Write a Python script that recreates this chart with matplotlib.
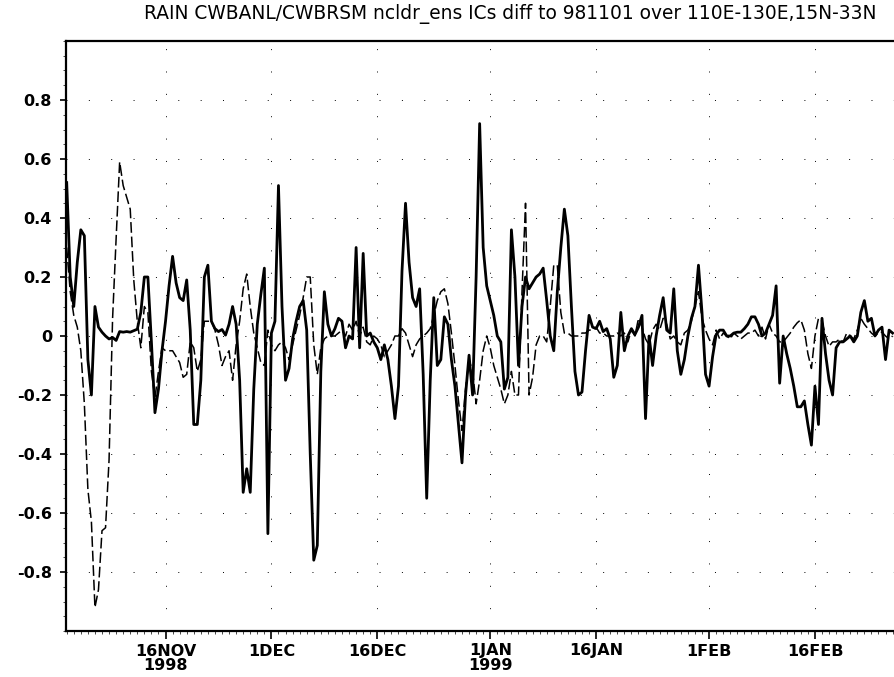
import numpy as np
import pandas as pd
import matplotlib
matplotlib.use("Agg")
import matplotlib.pyplot as plt
import matplotlib.dates as mdates
from datetime import datetime

plt.rcParams['font.family'] = ['Liberation Sans Narrow', 'DejaVu Sans']
plt.rcParams['axes.unicode_minus'] = False

# 12-hourly series starting 1998-11-02 00Z
start = '1998-11-02 00:00'

# solid line
rain_solid = [
    0.52, 0.2, 0.1, 0.25, 0.36, 0.34, -0.08, -0.2, 0.1, 0.03,
    0.013, 0.0, -0.01, -0.005, -0.015, 0.015, 0.013, 0.015, 0.013, 0.018,
    0.023, 0.08, 0.2, 0.2, -0.02, -0.26, -0.18, -0.05, 0.05, 0.17,
    0.27, 0.18, 0.13, 0.12, 0.19, 0.02, -0.3, -0.3, -0.15,
    # 20.5 - 40.0
    0.2, 0.24, 0.05, 0.025, 0.015, 0.022, 0.003, 0.04, 0.1, 0.04,
    -0.15, -0.53, -0.45, -0.53, -0.18, 0.04, 0.14, 0.23, -0.67, 0.01,
    0.05, 0.51, 0.1, -0.15, -0.11, -0.01, 0.05, 0.1, 0.12, 0.02,
    -0.4, -0.76, -0.71, -0.12, 0.15, 0.04, 0.0, 0.025, 0.06, 0.05,
    # 40.5 - 59.5
    -0.04, 0.0, -0.01, 0.3, -0.04, 0.28, 0.0, 0.01, -0.02, -0.04,
    -0.08, -0.03, -0.08, -0.17, -0.28, -0.17, 0.22, 0.45, 0.25, 0.13,
    0.1, 0.16, -0.13, -0.55, -0.15, 0.13, -0.1, -0.08, 0.065, 0.04,
    -0.08, -0.17, -0.3, -0.43, -0.2, -0.065, -0.2, 0.2, 0.72,
    # 60.0 - 79.5
    0.3, 0.17, 0.12, 0.07, 0.0, -0.02, -0.18, -0.14, 0.36, 0.2,
    -0.1, 0.1, 0.2, 0.16, 0.18, 0.2, 0.21, 0.23, 0.12, 0.0,
    -0.05, 0.15, 0.3, 0.43, 0.34, 0.1, -0.12, -0.2, -0.19, -0.05,
    0.07, 0.03, 0.025, 0.05, 0.015, 0.025, -0.01, -0.14, -0.1, 0.08,
    # 80.0 - 99.0
    -0.05, 0.0, 0.025, 0.005, 0.03, 0.07, -0.28, 0.0, -0.1, 0.0,
    0.07, 0.13, 0.02, 0.01, 0.16, -0.05, -0.13, -0.08, 0.0, 0.06,
    0.1, 0.24, 0.08, -0.13, -0.17, -0.07, 0.005, 0.02, 0.02, 0.0,
    0.0, 0.01, 0.013, 0.013, 0.025, 0.04, 0.065, 0.065, 0.04,
    # 99.5 - 118.0
    0.0, 0.01, 0.04, 0.07, 0.17, -0.16, 0.0, -0.06, -0.11, -0.17,
    -0.24, -0.24, -0.22, -0.3, -0.37, -0.17, -0.3, 0.06, -0.06, -0.15,
    -0.2, -0.04, -0.02, -0.02, -0.01, 0.0, -0.02, 0.0, 0.08, 0.12,
    0.05, 0.06, 0.0, 0.02, 0.03, -0.08, 0.02, 0.01,
]

# dashed line
rain_dashed = [
    0.3, 0.15, 0.07, 0.03, -0.05, -0.23, -0.52, -0.63, -0.92, -0.86,
    -0.66, -0.65, -0.42, 0.06, 0.33, 0.59, 0.51, 0.47, 0.43, 0.19,
    0.05, -0.04, 0.1, 0.08, -0.12, -0.21, -0.12, -0.04, -0.05, -0.05,
    -0.05, -0.07, -0.09, -0.14, -0.13, -0.02, -0.04, -0.12, -0.08,
    # 20.5 - 40.0
    0.05, 0.05, 0.05, 0.02, -0.03, -0.1, -0.07, -0.05, -0.15, -0.03,
    0.05, 0.16, 0.21, 0.1, 0.01, -0.04, -0.09, -0.1, 0.02, -0.03,
    -0.05, -0.03, -0.02, -0.04, -0.08, -0.03, 0.02, 0.07, 0.13, 0.2,
    0.2, -0.03, -0.13, -0.04, -0.01, 0.0, 0.0, 0.0, 0.01, 0.02,
    # 40.5 - 59.5
    0.0, 0.04, 0.02, 0.05, 0.0, 0.03, -0.02, -0.03, 0.0, -0.01,
    -0.03, -0.07, -0.05, -0.03, 0.0, 0.0, 0.025, 0.01, -0.03, -0.07,
    -0.03, -0.01, 0.0, 0.01, 0.025, 0.07, 0.12, 0.15, 0.16, 0.11,
    0.01, -0.1, -0.22, -0.32, -0.18, -0.08, -0.12, -0.23, -0.15,
    # 60.0 - 79.5
    -0.05, 0.0, -0.04, -0.1, -0.14, -0.18, -0.23, -0.2, -0.12, -0.2,
    -0.2, 0.15, 0.45, -0.2, -0.14, -0.03, 0.0, 0.0, -0.02, 0.1,
    0.24, 0.24, 0.08, 0.01, 0.01, 0.0, 0.0, 0.0, 0.01, 0.01,
    0.02, 0.02, 0.03, 0.01, 0.01, 0.0, 0.0, 0.0, 0.01, 0.0,
    # 80.0 - 99.0
    0.01, -0.02, 0.02, 0.0, 0.06, 0.03, -0.01, -0.03, 0.02, 0.04,
    0.02, 0.06, 0.04, -0.01, 0.0, -0.02, -0.03, 0.01, 0.02, 0.05,
    0.1, 0.15, 0.06, 0.02, -0.01, -0.03, 0.02, -0.01, 0.01, 0.0,
    -0.01, 0.01, 0.0, -0.01, 0.0, 0.01, 0.01, 0.02, 0.0,
    # 99.5 - 118.0
    0.03, -0.01, 0.04, 0.01, 0.0, -0.02, -0.02, -0.005, 0.01, 0.03,
    0.045, 0.055, 0.02, -0.06, -0.11, 0.0, 0.06, 0.05, 0.0, -0.035,
    -0.02, -0.02, -0.01, -0.02, 0.01, 0.0, -0.01, 0.02, 0.06, 0.04,
    0.025, 0.01, 0.0, 0.01, 0.013, 0.0, -0.01, 0.0,
]

tick_dates = ['1998-11-16', '1998-12-01', '1998-12-16', '1999-01-01',
              '1999-01-16', '1999-02-01', '1999-02-16']
tick_labels = ['16NOV\n1998', '1DEC', '16DEC', '1JAN\n1999', '16JAN', '1FEB', '16FEB']
ytick_vals = [-0.8, -0.6, -0.4, -0.2, 0, 0.2, 0.4, 0.6, 0.8]
ytick_labels = ['-0.8', '-0.6', '-0.4', '-0.2', '0', '0.2', '0.4', '0.6', '0.8']

title = 'RAIN CWBANL/CWBRSM ncldr_ens ICs diff to 981101 over 110E-130E,15N-33N'

times = pd.date_range(start, periods=len(rain_solid), freq='12h')

fig = plt.figure(figsize=(8.94, 6.77), dpi=100)
ax = fig.add_axes([66 / 894, 1 - 631 / 677, 828 / 894, 590 / 677])

ax.plot(times, rain_dashed, color='black', lw=1.1, dashes=(7, 2.5))
ax.plot(times, rain_solid, color='black', lw=2.0)

ax.set_xlim(datetime(1998, 11, 1, 21, 36), datetime(1999, 2, 27, 4, 48))
ax.set_ylim(-1, 1)

ax.set_xticks(pd.to_datetime(tick_dates))
ax.set_xticklabels(tick_labels, fontsize=11.5, fontweight='bold', linespacing=0.95)
ax.set_yticks(ytick_vals)
ax.set_yticklabels(ytick_labels, fontsize=11.5, fontweight='bold')
ax.xaxis.set_minor_locator(mdates.DayLocator())
ax.yaxis.set_minor_locator(matplotlib.ticker.MultipleLocator(0.05))

ax.tick_params(axis='x', which='major', direction='out', length=6, width=1.2, pad=3)
ax.tick_params(axis='y', which='major', direction='out', length=4, width=1.2, pad=6)
ax.tick_params(which='minor', direction='out', length=2, width=0.5)

for s in ['left', 'bottom', 'top']:
    ax.spines[s].set_linewidth(1.6)
ax.spines['right'].set_visible(False)

ax.grid(True, which='major', color='black', lw=0.7, linestyle=(0, (1, 22)))

fig.text(0.5705, 0.979, title, ha='center', va='center', fontsize=13.4)

fig.savefig('out.png', dpi=100)
